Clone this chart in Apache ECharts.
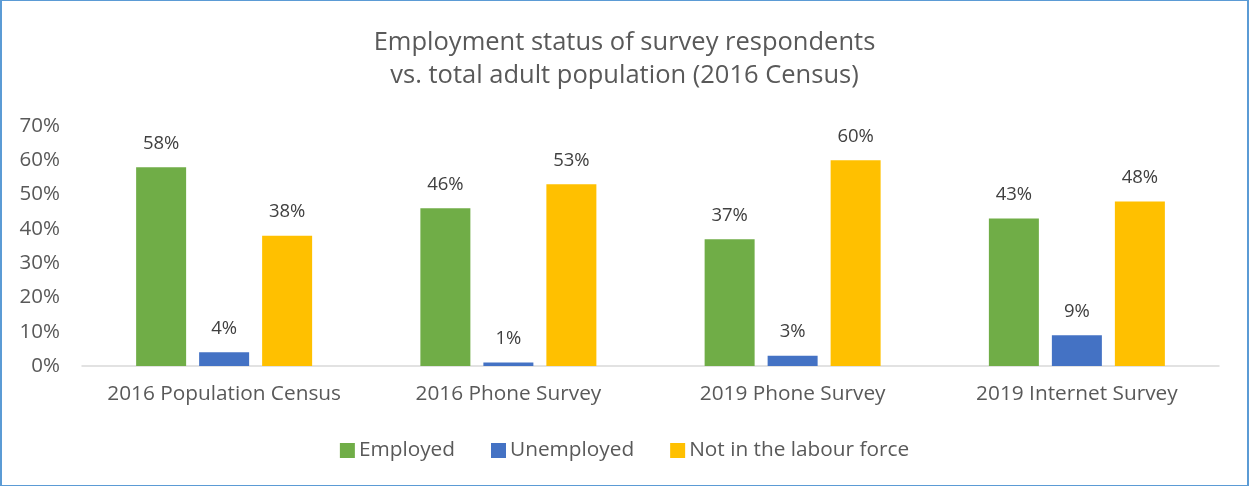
<!DOCTYPE html>
<html lang="en">
<head>
    <meta charset="UTF-8">
    <title>employment-status</title>
    <script src="https://cdn.jsdelivr.net/npm/echarts@6/dist/echarts.min.js"></script>
    <style>
        html, body {
            margin: 0;
            padding: 0;
            background: #fff;
        }
        #main {
            width: 1249px;
            height: 486px;
        }
        #frame {
            position: absolute;
            left: 0;
            top: 0;
            width: 1249px;
            height: 486px;
            box-sizing: border-box;
            border: 1px solid #5B9BD5;
            border-left-width: 2px;
            border-right-width: 2px;
            pointer-events: none;
        }
    </style>
</head>
<body>
    <div id="main"></div>
    <div id="frame"></div>
    <script type="text/javascript">
        // data
        const categories = ['2016 Population Census', '2016 Phone Survey', '2019 Phone Survey', '2019 Internet Survey'];
        const employed = [58, 46, 37, 43];
        const unemployed = [4, 1, 3, 9];
        const notInLabourForce = [38, 53, 60, 48];
        const seriesNames = ['Employed', 'Unemployed', 'Not in the labour force'];
        const colors = ['#70AD47', '#4472C4', '#FFC000'];

        const font = '"Open Sans", "Noto Sans", sans-serif';
        const chart = echarts.init(document.getElementById('main'));

        const makeSeries = (name, data, color) => ({
            name: name,
            type: 'bar',
            data: data,
            barWidth: 50,
            barGap: '26%',
            itemStyle: { color: color },
            label: {
                show: true,
                position: 'top',
                distance: 14,
                formatter: '{c}%',
                color: '#404040',
                fontSize: 18.5,
                fontFamily: font
            }
        });

        const option = {
            backgroundColor: '#fff',
            animation: false,
            color: colors,
            title: {
                text: 'Employment status of survey respondents\nvs. total adult population (2016 Census)',
                left: 'center',
                top: 21,
                textStyle: {
                    color: '#595959',
                    fontSize: 25.5,
                    fontWeight: 'normal',
                    fontFamily: font,
                    lineHeight: 33
                }
            },
            legend: {
                data: seriesNames,
                bottom: 20,
                left: 'center',
                itemWidth: 15,
                itemHeight: 15,
                itemGap: 36,
                icon: 'rect',
                textStyle: {
                    color: '#595959',
                    fontSize: 20.8,
                    fontFamily: font,
                    padding: [0, 0, 0, -1]
                }
            },
            grid: {
                left: 82,
                right: 30,
                top: 126,
                bottom: 120,
                containLabel: false
            },
            xAxis: {
                type: 'category',
                data: categories,
                axisLine: { lineStyle: { color: '#D9D9D9', width: 1.5 } },
                axisTick: { show: false },
                axisLabel: {
                    interval: 0,
                    color: '#595959',
                    fontSize: 20.8,
                    fontFamily: font,
                    margin: 18
                }
            },
            yAxis: {
                type: 'value',
                min: 0,
                max: 70,
                interval: 10,
                axisLine: { show: false },
                axisTick: { show: false },
                splitLine: { show: false },
                axisLabel: {
                    formatter: '{value}%',
                    color: '#595959',
                    fontSize: 20.5,
                    fontFamily: font,
                    margin: 22
                }
            },
            series: [
                makeSeries(seriesNames[0], employed, colors[0]),
                makeSeries(seriesNames[1], unemployed, colors[1]),
                makeSeries(seriesNames[2], notInLabourForce, colors[2])
            ]
        };

        chart.setOption(option);
    </script>
</body>
</html>
